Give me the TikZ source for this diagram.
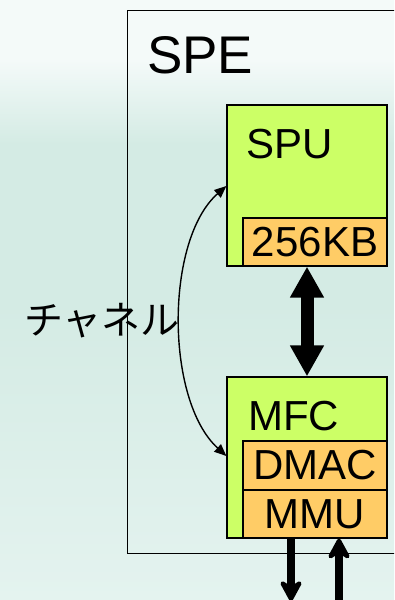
\documentclass[tikz,border=0pt]{standalone}
\usepackage{fontspec}
\setmainfont{Liberation Sans}
\newfontfamily\jpfont{Noto Sans CJK JP}
\usetikzlibrary{arrows.meta}

\definecolor{blockgreen}{HTML}{CCFF66}
\definecolor{blockorange}{HTML}{FFCC66}
\definecolor{bgtop}{HTML}{F4FAF9}
\definecolor{bgmid}{HTML}{D4EBE4}
\definecolor{bgbot}{HTML}{E4F3EF}

% soft backdrop: light at the top, teal in the middle, lighter again at the bottom
\pgfdeclareverticalshading{backdrop}{100bp}{%
  color(0bp)=(bgbot); color(25bp)=(bgbot); color(50bp)=(bgmid);
  color(63bp)=(bgmid); color(70bp)=(bgtop); color(100bp)=(bgtop)}

\tikzset{
  unit/.style={draw=black, line width=1.3pt, fill=blockgreen, inner sep=0pt,
               minimum width=160pt, minimum height=161pt},
  part/.style={draw=black, line width=1.3pt, fill=blockorange, inner sep=0pt,
               minimum width=144pt, font=\fontsize{42}{42}\selectfont},
  title/.style={anchor=base west, inner sep=0pt, font=\fontsize{42}{42}\selectfont},
  busarrow/.style={line width=13pt,
                   {Triangle[length=31pt,width=32pt]}-{Triangle[length=31pt,width=32pt]}},
  ioarrow/.style={line width=8pt, -{Stealth[round,length=26pt,width=28pt,inset=9pt]}},
  channel/.style={line width=1.4pt,
                  {Triangle[length=12pt,width=10pt]}-{Triangle[length=12pt,width=10pt]}}
}

\begin{document}
\begin{tikzpicture}[x=1pt,y=-1pt]
  \useasboundingbox (0,0) rectangle (394,600);
  \clip (0,0) rectangle (394,600);
  \shade[shading=backdrop] (0,0) rectangle (394,600);

  % SPE frame, running off the right edge
  \node[draw=black, line width=1.4pt, inner sep=0pt, minimum width=300pt,
        minimum height=543pt, anchor=north west] (spe) at (127,10) {};
  \node[anchor=base west, inner sep=0pt, font=\fontsize{53}{53}\selectfont]
       (spelabel) at (147,73) {SPE};

  % SPU with its local store
  \node[unit] (spu) at (307,185.5) {};
  \node[title] (spulabel) at (246,158) {SPU};
  \node[part, minimum height=48pt] (kb) at (315,242) {256KB};

  % MFC with DMAC and MMU
  \node[unit] (mfc) at (307,457.5) {};
  \node[title] (mfclabel) at (248,430) {MFC};
  \node[part, minimum height=49pt] (dmac) at (315,465.5) {DMAC};
  \node[part, minimum height=48pt] (mmu) at (315,514) {MMU};

  % local store <-> MFC
  \coordinate (busx) at (307,0);
  \draw[busarrow] (kb.south -| busx) -- (mfc.north -| busx);

  % traffic in and out of the MFC
  \coordinate (outend) at (291,601);
  \coordinate (inend) at (339,601);
  \draw[ioarrow] (mmu.south -| outend) -- (outend);
  \draw[ioarrow] (inend) -- (mmu.south -| inend);

  % channel between SPU and MFC
  \coordinate (chtop) at (spu.west |- 0,186);
  \coordinate (chbot) at (mfc.west |- 0,456);
  \draw[channel] (chtop) .. controls (165,240) and (165,400) .. (chbot);
  \node[inner sep=0pt, font=\jpfont\fontsize{39}{39}\selectfont]
       (chlabel) at (102,321) {チャネル};
\end{tikzpicture}
\end{document}
